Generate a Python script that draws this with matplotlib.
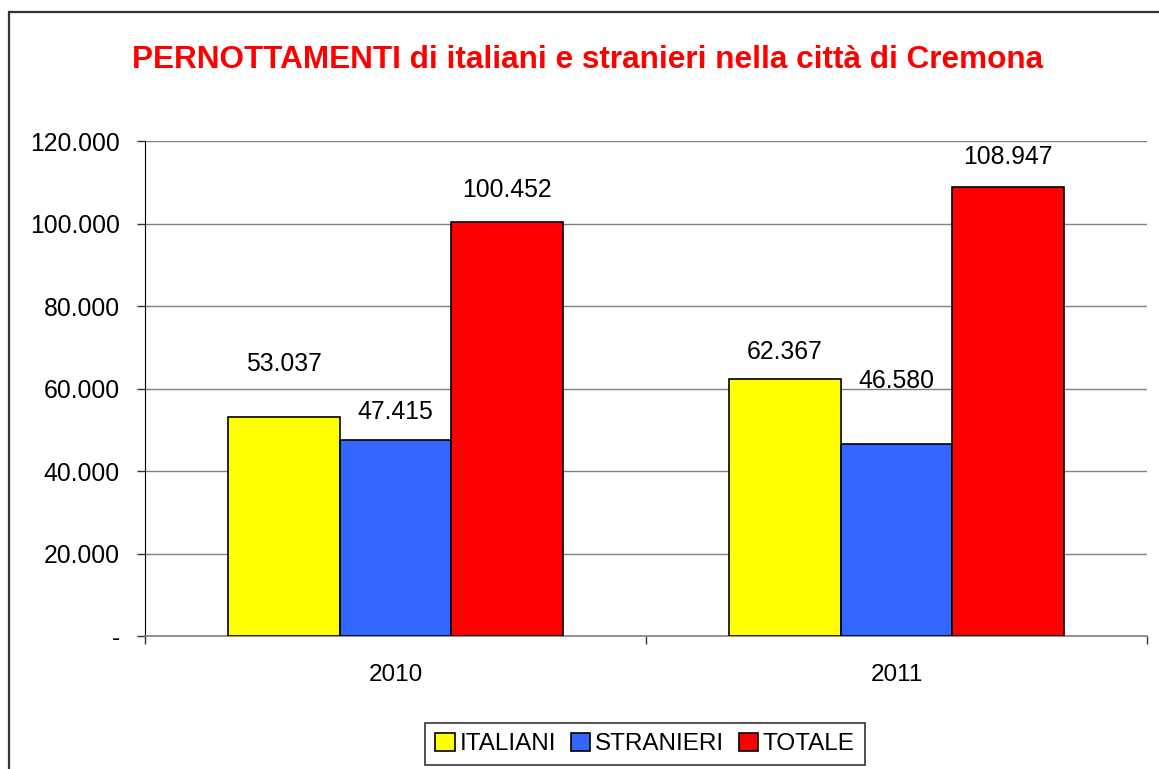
import matplotlib
matplotlib.use("Agg")
import matplotlib.pyplot as plt
import matplotlib.patches as mpatches
from matplotlib.ticker import FuncFormatter, MultipleLocator
import numpy as np

plt.rcParams['font.family'] = ['Liberation Sans', 'DejaVu Sans']

years = ["2010", "2011"]
series_names = ["ITALIANI", "STRANIERI", "TOTALE"]
italiani = [53037, 62367]
stranieri = [47415, 46580]
totale = [100452, 108947]
colors = ["#FFFF00", "#3366FF", "#FF0000"]
# label offsets above bar top (pixels), as placed in the original
label_offsets = [[53, 27], [28, 63], [32, 30]]

W, H = 1159, 769
fig = plt.figure(figsize=(W/100, H/100), dpi=100)
ax = fig.add_axes([145/W, 1-636/H, (1147-145)/W, (636-141)/H])

# outer border
fig.patches.append(mpatches.Rectangle((9/W, -0.1), 2, (H-12)/H + 0.1,
                                      transform=fig.transFigure, fill=False,
                                      edgecolor="#333333", linewidth=1.6))

x = np.arange(len(years))
bw = 0.2225
data = [italiani, stranieri, totale]
for i, (vals, col, name) in enumerate(zip(data, colors, series_names)):
    pos = x + (i - 1) * bw
    ax.bar(pos, vals, width=bw, color=col, edgecolor="black", linewidth=1.2,
           label=name, zorder=3)
    for j, (p, v) in enumerate(zip(pos, vals)):
        ax.annotate(f"{v:,}".replace(",", "."), (p, v),
                    xytext=(0, label_offsets[i][j] * 0.72), textcoords="offset points",
                    ha="center", va="center", fontsize=17.8, color="black")

ax.set_xlim(-0.5, 1.5)
ax.set_ylim(0, 120000)
ax.yaxis.set_major_locator(MultipleLocator(20000))
ax.yaxis.set_major_formatter(FuncFormatter(lambda v, p: "-" if v == 0 else f"{int(v):,}".replace(",", ".")))
ax.grid(axis="y", color="#808080", linewidth=1, zorder=0)
ax.set_axisbelow(True)

ax.set_xticks([-0.5, 0.5, 1.5], minor=False)
ax.set_xticklabels([])
ax.set_xticks(x, minor=True)
ax.set_xticklabels(years, minor=True, fontsize=17.5)
ax.tick_params(axis="x", which="major", length=6, width=1, color="#333333", direction="out")
ax.tick_params(axis="x", which="minor", length=0, pad=20)
ax.tick_params(axis="y", length=6, width=1, color="#333333", labelsize=17.8, pad=12)

for s in ["top", "right"]:
    ax.spines[s].set_visible(False)
ax.spines["left"].set_color("black")
ax.spines["bottom"].set_color("#808080")
ax.spines["bottom"].set_linewidth(1.2)

fig.text(588/W, 1-60/H, "PERNOTTAMENTI di italiani e stranieri nella città di Cremona",
         ha="center", va="center", fontsize=22.7, fontweight="bold", color="#FF0000")

leg = fig.legend(loc="center", bbox_to_anchor=(645/W, 1-744/H), ncol=3, fontsize=17.5,
                 frameon=True, fancybox=False, edgecolor="black", handlelength=0.8,
                 handleheight=0.8, handletextpad=0.2, columnspacing=0.6,
                 borderpad=0.4, borderaxespad=0)
leg.get_frame().set_linewidth(1.2)

fig.savefig("out.png", dpi=100)
